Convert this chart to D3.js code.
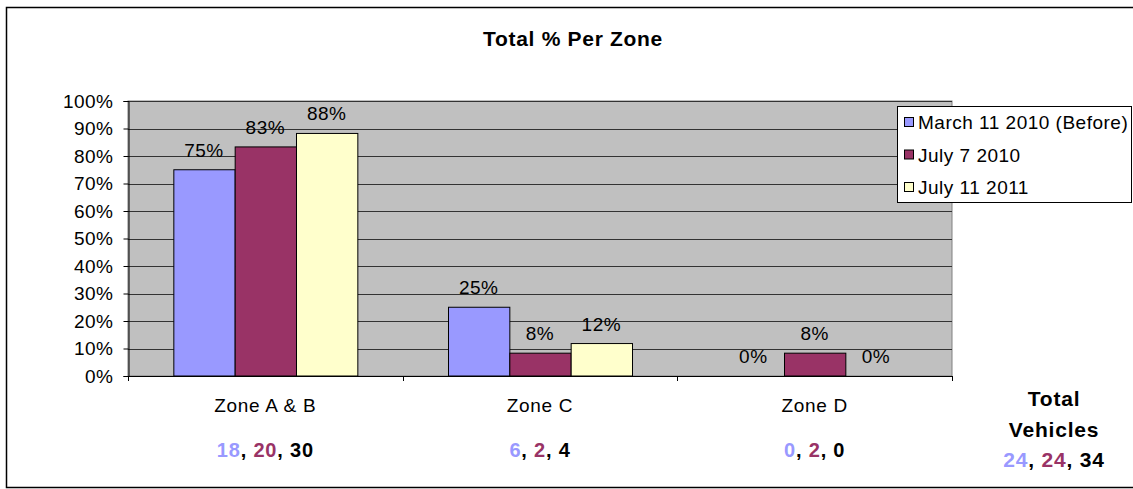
<!DOCTYPE html>
<html>
<head>
<meta charset="utf-8">
<script src="https://cdn.jsdelivr.net/npm/d3@7"></script>
<style>
   body { margin: 0; background: #fff; }
   text { font-family: "Liberation Sans", Arial, sans-serif; }
</style>
</head>
<body>
<div id="chart"></div>
<script>
var zones = ["Zone A & B", "Zone C", "Zone D"]
var seriesNames = ["March 11 2010 (Before)", "July 7 2010", "July 11 2011"]
var seriesColors = ["#9999ff", "#993366", "#ffffcc"]
var countColors = ["#9999ff", "#993366", "#000000"]
// percent per zone, one array per series
var march2010 = [75, 25, 0]
var july2010 = [83.3, 8.3, 8.3]
var july2011 = [88.2, 11.8, 0]
// vehicle counts shown under each zone
var counts = [[18, 20, 30], [6, 2, 4], [0, 2, 0]]
var totals = [24, 24, 34]
var yTicks = [0, 10, 20, 30, 40, 50, 60, 70, 80, 90, 100]

var width = 1133
var height = 489
var margin = { left: 128, right: 181, top: 101, bottom: 113 }
var fontSize = 19
var spacing = 0.5

var svg = d3.select("#chart").append("svg")
   .attr("width", width)
   .attr("height", height)

// outer frame
svg.append("rect")
   .attr("x", 6.5).attr("y", 7.5)
   .attr("width", width).attr("height", 480)
   .attr("fill", "white")
   .attr("stroke", "black")
   .attr("stroke-width", 1.5)

svg.append("text")
   .attr("x", 573).attr("y", 46)
   .attr("text-anchor", "middle")
   .attr("font-size", 21).attr("font-weight", "bold")
   .attr("letter-spacing", 0.7)
   .text("Total % Per Zone")

var x0 = d3.scaleBand().domain(zones).range([margin.left, width - margin.right])
var x1 = d3.scaleBand().domain(d3.range(3)).range([0, 184])
var y = d3.scaleLinear().domain([0, 100]).range([height - margin.bottom, margin.top])

// plot area
svg.append("rect")
   .attr("x", margin.left).attr("y", y(100))
   .attr("width", x0.range()[1] - margin.left)
   .attr("height", y(0) - y(100))
   .attr("fill", "#c0c0c0")
   .attr("stroke", "#808080")

svg.append("g").selectAll("line").data(yTicks.slice(1)).enter().append("line")
   .attr("x1", margin.left).attr("x2", x0.range()[1])
   .attr("y1", function(d) { return Math.round(y(d)) + 0.5 })
   .attr("y2", function(d) { return Math.round(y(d)) + 0.5 })
   .attr("stroke", "#333")

var yAxis = svg.append("g")
   .attr("transform", "translate(" + (margin.left + 0.5) + ",0)")
   .call(d3.axisLeft(y).tickValues(yTicks).tickSize(5).tickPadding(10)
      .tickFormat(function(d) { return d + "%" }))
yAxis.selectAll("text")
   .attr("font-size", fontSize)
   .attr("letter-spacing", spacing)
   .attr("font-family", "Liberation Sans, Arial, sans-serif")
   .attr("fill", "#000")
yAxis.select(".domain").attr("stroke", "#000")
yAxis.selectAll(".tick line").attr("stroke", "#000")

// category ticks below plot
var xTicks = zones.map(function(z) { return x0(z) }).concat([x0.range()[1]])
svg.append("g").selectAll("line").data(xTicks).enter().append("line")
   .attr("x1", function(d) { return Math.round(d) + 0.5 })
   .attr("x2", function(d) { return Math.round(d) + 0.5 })
   .attr("y1", y(0)).attr("y2", y(0) + 5)
   .attr("stroke", "#000")
svg.append("line")
   .attr("x1", margin.left).attr("x2", x0.range()[1])
   .attr("y1", y(0) + 0.5).attr("y2", y(0) + 0.5)
   .attr("stroke", "#000")

var series = [march2010, july2010, july2011]
var groups = svg.append("g").selectAll("g").data(zones).enter().append("g")
   .attr("transform", function(z) { return "translate(" + (x0(z) + (x0.bandwidth() - 184) / 2) + ",0)" })

function zoneValues(z, zi) {
   return series.map(function(s, si) { return { si: si, v: s[zi] } })
}

groups.selectAll("rect").data(zoneValues).enter().append("rect")
   .filter(function(d) { return d.v > 0 })
   .attr("x", function(d) { return x1(d.si) + 0.5 })
   .attr("y", function(d) { return y(d.v) })
   .attr("width", x1.bandwidth())
   .attr("height", function(d) { return y(0) - y(d.v) })
   .attr("fill", function(d) { return seriesColors[d.si] })
   .attr("stroke", "#000")

groups.selectAll("text").data(zoneValues).enter().append("text")
   .attr("x", function(d) { return x1(d.si) + x1.bandwidth() / 2 })
   .attr("y", function(d) { return y(d.v) - 13 })
   .attr("text-anchor", "middle")
   .attr("font-size", fontSize)
   .attr("letter-spacing", spacing)
   .text(function(d) { return Math.round(d.v) + "%" })

// zone labels and counts
svg.append("g").selectAll("text").data(zones).enter().append("text")
   .attr("x", function(z) { return x0(z) + x0.bandwidth() / 2 })
   .attr("y", 412)
   .attr("text-anchor", "middle")
   .attr("font-size", fontSize)
   .attr("letter-spacing", 0.7)
   .text(function(z) { return z })

function countLine(sel, vals) {
   vals.forEach(function(v, i) {
      sel.append("tspan").attr("fill", countColors[i]).text(v)
      if(i < vals.length - 1) sel.append("tspan").attr("fill", "#000").text(", ")
   })
}

svg.append("g").selectAll("text").data(zones).enter().append("text")
   .attr("x", function(z) { return x0(z) + x0.bandwidth() / 2 })
   .attr("y", 457)
   .attr("text-anchor", "middle")
   .attr("font-size", 20).attr("font-weight", "bold")
   .attr("letter-spacing", 0.8)
   .each(function(z, i) { countLine(d3.select(this), counts[i]) })

var tot = svg.append("g").attr("font-size", 21).attr("font-weight", "bold").attr("letter-spacing", 0.8)
tot.append("text").attr("x", 1054).attr("y", 406).attr("text-anchor", "middle").text("Total")
tot.append("text").attr("x", 1054).attr("y", 437).attr("text-anchor", "middle").text("Vehicles")
countLine(tot.append("text").attr("x", 1054).attr("y", 467).attr("text-anchor", "middle"), totals)

// legend
var legend = svg.append("g").attr("transform", "translate(897,106)")
legend.append("rect")
   .attr("x", 0.5).attr("y", 0.5)
   .attr("width", 234).attr("height", 96)
   .attr("fill", "white").attr("stroke", "#000")
var items = legend.selectAll("g.item").data(seriesNames).enter().append("g")
   .attr("transform", function(d, i) { return "translate(0," + (16 + i * 32.5) + ")" })
items.append("rect")
   .attr("x", 7.5).attr("y", -4.5)
   .attr("width", 9).attr("height", 9)
   .attr("fill", function(d, i) { return seriesColors[i] })
   .attr("stroke", "#000")
items.append("text")
   .attr("x", 21).attr("y", 7)
   .attr("font-size", fontSize)
   .attr("letter-spacing", spacing)
   .text(function(d) { return d })
</script>
</body>
</html>
